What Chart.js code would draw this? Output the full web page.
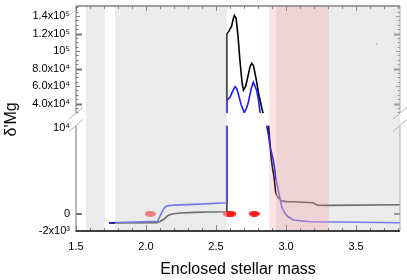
<!DOCTYPE html>
<html><head><meta charset="utf-8">
<script src="https://cdn.jsdelivr.net/npm/chart.js@4.4.1/dist/chart.umd.min.js"></script>
<style>html,body{margin:0;padding:0;background:#fff}</style>
</head><body>
<canvas id="c" width="407" height="280" style="width:407px;height:280px;display:block"></canvas>
<script>
// ---------- data ----------
const xTickValues = [1.5, 2.0, 2.5, 3.0, 3.5];
const upperTickValues = [40000, 60000, 80000, 100000, 120000, 140000];
const upperTickLabels = ['4.0x10⁴', '6.0x10⁴', '8.0x10⁴', '10⁵', '1.2x10⁵', '1.4x10⁵'];
const lowerTickValues = [-2000, 0, 10000];
const lowerTickLabels = ['-2x10³', '0', '10⁴'];

const blackX = [1.736, 2.079, 2.100, 2.129, 2.157, 2.186, 2.243, 2.350, 2.436, 2.571, 2.5755,
  2.5765, 2.593, 2.612, 2.621, 2.631, 2.643, 2.657, 2.671, 2.686, 2.696, 2.711, 2.729, 2.743, 2.755,
  2.768, 2.786, 2.807, 2.834,
  2.8736, 2.886, 2.893, 2.902, 2.914, 2.926, 2.933, 2.945, 2.969, 3.0, 3.052, 3.195, 3.214, 3.23, 3.29, 3.814];
const blackY = [-1060, -1040, -900, -610, -210, -35, 80, 160, 195, 230, 230,
  119250, 123000, 128700, 135500, 140800, 137800, 117300, 88900, 63900, 55400, 59400, 71900, 82100, 86100,
  83200, 68500, 49200, 30000,
  10440, 8130, 6580, 5430, 4270, 2540, 2160, 1870, 1500, 1410, 1390, 1270, 1060, 1000, 970, 1040];

const blueX = [1.738, 2.082, 2.107, 2.129, 2.150, 2.207, 2.386, 2.571, 2.5755,
  2.5765, 2.600, 2.618, 2.636, 2.648, 2.659, 2.679, 2.702, 2.718, 2.731, 2.750, 2.766, 2.778, 2.791, 2.804, 2.814,
  2.862, 2.875, 2.886, 2.896, 2.909, 2.918, 2.926, 2.945, 2.969, 2.993, 3.016, 3.052, 3.171, 3.386, 3.814];
const blueY = [-1040, -880, -35, 660, 910, 1005, 1120, 1270, 1270,
  43500, 47200, 54000, 59400, 57000, 51100, 39000, 29500, 35000, 41600, 56000, 64300, 60000, 54800, 43000, 30200,
  10245, 9090, 7740, 7130, 6200, 5280, 4270, 2740, 810, 25, -350, -730, -925, -960, -1040];

const markerX = [2.029, 2.588, 2.607, 2.773];
const markerY = [0, 0, 0, 0];
const strayX = [3.648];
const strayY = [107900];

const grayBands = [[1.571, 1.706], [1.779, 2.576], [2.929, 3.814]];
const pinkBands = [[2.879, 3.307]];

// ---------- helpers ----------
const FONT = "'Liberation Sans', Arial, sans-serif";
function pts(xs, ys) { return xs.map((x, i) => ({x: x, y: ys[i]})); }
function lineDs(xs, ys, color, axis) {
  return {type: 'line', data: pts(xs, ys), yAxisID: axis, borderColor: color, borderWidth: 1.6,
    pointRadius: 0, tension: 0, fill: false};
}
function ellipseMarker(w, h, color) {
  const c = document.createElement('canvas'); c.width = w; c.height = h;
  const g = c.getContext('2d'); g.fillStyle = color; g.beginPath();
  g.ellipse(w / 2, h / 2, w / 2, h / 2, 0, 0, Math.PI * 2); g.fill(); return c;
}

// clip each dataset to its own y-panel
const panelClip = {
  id: 'panelClip',
  beforeDatasetDraw(chart, args) {
    const ys = args.meta.yScale, a = chart.chartArea, ctx = chart.ctx;
    ctx.save(); ctx.beginPath(); ctx.rect(a.left, ys.top, a.right - a.left, ys.bottom - ys.top); ctx.clip();
  },
  afterDatasetDraw(chart) { chart.ctx.restore(); }
};

// shaded bands (drawn over the lines, translucent) and frame
const frame = {
  id: 'frame',
  afterDatasetsDraw(chart) {
    const ctx = chart.ctx, a = chart.chartArea, xs = chart.scales.x;
    ctx.save();
    ctx.beginPath(); ctx.rect(a.left, a.top, a.right - a.left, a.bottom - a.top); ctx.clip();
    ctx.fillStyle = 'rgba(216,216,216,0.5)';
    grayBands.forEach(b => { const x0 = xs.getPixelForValue(b[0]), x1 = xs.getPixelForValue(b[1]);
      ctx.fillRect(x0, a.top, x1 - x0, a.bottom - a.top); });
    ctx.fillStyle = 'rgba(250,120,120,0.2)';
    pinkBands.forEach(b => { const x0 = xs.getPixelForValue(b[0]), x1 = xs.getPixelForValue(b[1]);
      ctx.fillRect(x0, a.top, x1 - x0, a.bottom - a.top); });
    ctx.restore();
  },
  afterDraw(chart) {
    const ctx = chart.ctx, a = chart.chartArea, xs = chart.scales.x;
    const up = chart.scales.yHigh, lo = chart.scales.yLow;
    ctx.save();
    const seg = (x0, y0, x1, y1, col, w) => { ctx.strokeStyle = col; ctx.lineWidth = w; ctx.beginPath(); ctx.moveTo(x0, y0); ctx.lineTo(x1, y1); ctx.stroke(); };
    // x ticks top & bottom
    for (let v = 1.5; v <= 3.8001; v += 0.1) {
      const px = Math.round(xs.getPixelForValue(v)) + 0.5;
      const major = Math.abs(v * 2 - Math.round(v * 2)) < 1e-6;
      seg(px, a.bottom, px, a.bottom - (major ? 6 : 3), '#888', 1);
      seg(px, a.top, px, a.top + (major ? 5 : 3), '#888', 1);
    }
    // upper y ticks
    for (let v = 30000; v <= 150000; v += 5000) {
      const py = Math.round(up.getPixelForValue(v)) + 0.5;
      const major = v % 20000 === 0, big = v % 40000 === 0;
      const L = big ? 6 : (major ? 4 : 2.5);
      seg(a.left, py, a.left + L, py, '#777', big ? 2 : 1);
      seg(a.right, py, a.right - L, py, '#999', big ? 2 : 1);
    }
    // lower y ticks
    [0].forEach(v => { const py = Math.round(lo.getPixelForValue(v));
      seg(a.left, py, a.left + 6, py, '#777', 2); seg(a.right, py, a.right - 6, py, '#999', 2); });
    // frame lines
    seg(a.left, a.top, a.right, a.top, '#808080', 1.5);
    seg(a.left - 0.5, a.bottom, a.right, a.bottom, '#000', 1.5);
    seg(a.left, up.top, a.left, up.bottom, '#707070', 1);
    seg(a.left, lo.top, a.left, lo.bottom, '#707070', 1);
    seg(a.right, up.top, a.right, up.bottom, '#aaa', 1);
    seg(a.right, lo.top, a.right, lo.bottom, '#aaa', 1);
    // break marks
    [a.left, a.right].forEach(x => {
      [up.bottom, lo.top].forEach(y => seg(x - 7, y + 6, x + 7, y - 6, '#b0b0b0', 1));
    });
    ctx.restore();
  }
};

const yCommon = (afterFitW) => ({
  type: 'linear', position: 'left', stack: 'panels',
  grid: {display: false, drawTicks: false}, border: {display: false},
  afterFit: s => { s.width = 76; s.paddingTop = 0; s.paddingBottom = 0; }
});

new Chart(document.getElementById('c'), {
  data: {
    datasets: [
      {type: 'line', data: pts(markerX, markerY), yAxisID: 'yLow', showLine: false,
        pointStyle: ellipseMarker(11, 6, '#ff1a1a'), pointRadius: 5},
      {type: 'line', data: pts(strayX, strayY), yAxisID: 'yHigh', showLine: false,
        pointStyle: 'rect', pointRadius: 0.7, backgroundColor: '#000', borderColor: '#000', borderWidth: 0},
      lineDs(blueX, blueY, '#1a1aff', 'yLow'),
      lineDs(blueX, blueY, '#1a1aff', 'yHigh'),
      lineDs(blackX, blackY, '#000000', 'yLow'),
      lineDs(blackX, blackY, '#000000', 'yHigh')
    ]
  },
  options: {
    responsive: false, animation: false, devicePixelRatio: 1,
    layout: {padding: {top: 5, right: 7, left: 0, bottom: 0}},
    plugins: {legend: {display: false}, tooltip: {enabled: false}},
    scales: {
      x: {
        type: 'linear', position: 'bottom', min: 1.5, max: 3.814,
        afterBuildTicks: s => { s.ticks = xTickValues.map(v => ({value: v})); },
        ticks: {callback: v => Number(v).toFixed(1), font: {family: FONT, size: 11}, color: '#000',
          padding: 9, maxRotation: 0, autoSkip: false},
        grid: {display: false, drawTicks: false}, border: {display: false},
        title: {display: true, text: 'Enclosed stellar mass', font: {family: FONT, size: 16}, color: '#000',
          padding: {top: 2, bottom: 1}},
        afterFit: s => { s.height = 49; s.paddingLeft = 0; s.paddingRight = 0; }
      },
      yHigh: Object.assign(yCommon(), {
        stackWeight: 107.7, weight: 3, min: 29000, max: 151400,
        afterBuildTicks: s => { s.ticks = upperTickValues.map(v => ({value: v})); },
        ticks: {callback: v => upperTickLabels[upperTickValues.indexOf(v)], font: {family: FONT, size: 11},
          color: '#000', padding: 6, autoSkip: false}
      }),
      yGap: Object.assign(yCommon(), {
        stackWeight: 12.3, weight: 2, min: 0, max: 1,
        ticks: {display: false},
        title: {display: true, text: "δ'Mg", font: {family: FONT, size: 16}, color: '#000', padding: {top: 2, bottom: 0}}
      }),
      yLow: Object.assign(yCommon(), {
        stackWeight: 106, weight: 1, min: -2000, max: 10233,
        afterBuildTicks: s => { s.ticks = lowerTickValues.map(v => ({value: v})); },
        ticks: {callback: v => lowerTickLabels[lowerTickValues.indexOf(v)], font: {family: FONT, size: 11},
          color: '#000', padding: 6, autoSkip: false}
      })
    }
  },
  plugins: [panelClip, frame]
});
</script>
</body></html>
